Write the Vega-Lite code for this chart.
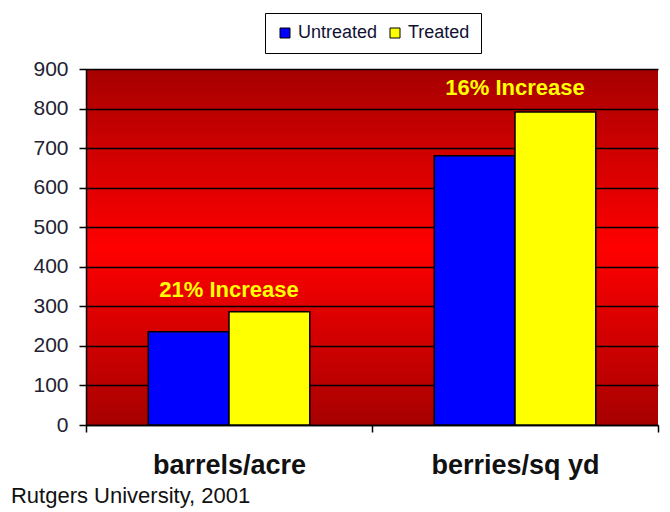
{
  "$schema": "https://vega.github.io/schema/vega-lite/v6.json",
  "width": 572,
  "height": 356,
  "autosize": {"type": "none"},
  "padding": {"left": 86, "top": 69, "right": 12, "bottom": 87},
  "background": "white",
  "title": {
    "text": "Rutgers University, 2001",
    "orient": "bottom",
    "anchor": "start",
    "dx": -22,
    "offset": 8,
    "font": "Liberation Sans",
    "fontSize": 22,
    "fontWeight": "normal",
    "color": "#111111"
  },
  "config": {
    "font": "Liberation Sans",
    "view": {
      "stroke": null,
      "fill": {
        "gradient": "linear",
        "x1": 0, "y1": 0, "x2": 0, "y2": 1,
        "stops": [
          {"offset": 0, "color": "#a60000"},
          {"offset": 0.5, "color": "#ff0000"},
          {"offset": 1, "color": "#a60000"}
        ]
      }
    }
  },
  "datasets": {
    "bars": [
      {"category": "barrels/acre", "treatment": "Untreated", "value": 236},
      {"category": "barrels/acre", "treatment": "Treated", "value": 286},
      {"category": "berries/sq yd", "treatment": "Untreated", "value": 681},
      {"category": "berries/sq yd", "treatment": "Treated", "value": 791}
    ],
    "notes": [
      {"category": "barrels/acre", "label": "21% Increase", "value": 341},
      {"category": "berries/sq yd", "label": "16% Increase", "value": 852}
    ]
  },
  "encoding": {
    "x": {
      "field": "category",
      "type": "nominal",
      "sort": ["barrels/acre", "berries/sq yd"],
      "scale": {"paddingInner": 0, "paddingOuter": 0},
      "axis": {
        "title": null,
        "labelAngle": 0,
        "labelFontSize": 27,
        "labelFontWeight": "bold",
        "labelColor": "#111111",
        "labelPadding": 20,
        "domainColor": "black",
        "domainWidth": 1.5,
        "tickColor": "black",
        "tickWidth": 1.5,
        "tickSize": 7,
        "tickBand": "extent"
      }
    },
    "y": {
      "field": "value",
      "type": "quantitative",
      "scale": {"domain": [0, 900], "nice": false},
      "axis": {
        "title": null,
        "values": [0, 100, 200, 300, 400, 500, 600, 700, 800, 900],
        "labelFontSize": 21,
        "labelColor": "#222233",
        "labelPadding": 11,
        "labelOverlap": false,
        "domainColor": "black",
        "domainWidth": 1.5,
        "tickColor": "black",
        "tickWidth": 1.5,
        "tickSize": 7,
        "grid": true,
        "gridColor": "black",
        "gridWidth": 1.5,
        "gridOpacity": 1
      }
    }
  },
  "layer": [
    {
      "data": {"name": "bars"},
      "mark": {"type": "bar", "stroke": "black", "strokeWidth": 1.5},
      "encoding": {
        "xOffset": {
          "field": "treatment",
          "type": "nominal",
          "sort": ["Untreated", "Treated"],
          "scale": {"paddingInner": 0, "paddingOuter": 0.77}
        },
        "color": {
          "field": "treatment",
          "type": "nominal",
          "sort": ["Untreated", "Treated"],
          "scale": {"domain": ["Untreated", "Treated"], "range": ["#0000ff", "#ffff00"]},
          "legend": {
            "title": null,
            "orient": "none",
            "direction": "horizontal",
            "legendX": 179,
            "legendY": -56,
            "fillColor": "white",
            "strokeColor": "black",
            "padding": 11,
            "symbolType": "square",
            "symbolSize": 100,
            "symbolStrokeColor": "black",
            "symbolStrokeWidth": 1,
            "symbolOpacity": 1,
            "labelFontSize": 18,
            "labelColor": "#111133",
            "columnPadding": 8,
            "labelOffset": 4
          }
        }
      }
    },
    {
      "data": {"name": "notes"},
      "mark": {
        "type": "text",
        "color": "#ffff00",
        "fontWeight": "bold",
        "fontSize": 22,
        "baseline": "middle",
        "align": "center"
      },
      "encoding": {
        "text": {"field": "label"}
      }
    }
  ]
}
